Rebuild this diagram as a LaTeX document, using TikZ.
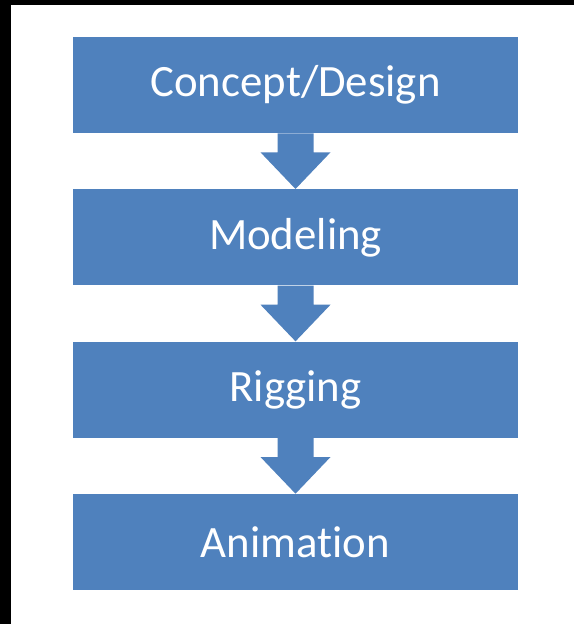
\documentclass[tikz,border=0pt]{standalone}
\usepackage{fontspec}
\setmainfont{Carlito}[Ligatures=NoCommon]
\usepackage{tikz}
\usetikzlibrary{positioning}

\definecolor{flowblue}{HTML}{4F81BD}

\tikzset{
  stage/.style={fill=flowblue, text=white, minimum width=8.9cm, minimum height=1.92cm,
    inner sep=0pt, font=\fontsize{25.5}{30}\selectfont},
  blockarrow/.style={fill=flowblue, draw=none, to path={
    ([xshift=-0.36cm]\tikztostart.south) -- ([xshift=-0.36cm,yshift=-0.38cm]\tikztostart.south)
    -- ([xshift=-0.7cm,yshift=-0.38cm]\tikztostart.south) -- (\tikztotarget.north)
    -- ([xshift=0.7cm,yshift=-0.38cm]\tikztostart.south) -- ([xshift=0.36cm,yshift=-0.38cm]\tikztostart.south)
    -- ([xshift=0.36cm]\tikztostart.south) -- cycle}}
}

\begin{document}
\begin{tikzpicture}[node distance=3.047cm,on grid]
                      % page and its dark edges
                      \fill[white] (0,0) rectangle (11.48,-12.48);
                      \fill[black] (0,0) rectangle (11.48,-0.1);
                      \fill[black] (0,0) rectangle (0.22,-12.48);
                      \useasboundingbox (0,0) rectangle (11.48,-12.48);
                      \node[stage] (concept) at (5.91,-1.70) {Concept/Design};
                      \node[stage] (modeling) [below=of concept] {Modeling};
                      \node[stage] (rigging) [below=of modeling] {Rigging};
                      \node[stage] (animation) [below=of rigging] {Animation};
                      \path (concept) edge[blockarrow] (modeling)
                      (modeling) edge[blockarrow] (rigging)
                      (rigging) edge[blockarrow] (animation);
                  \end{tikzpicture}
\end{document}
